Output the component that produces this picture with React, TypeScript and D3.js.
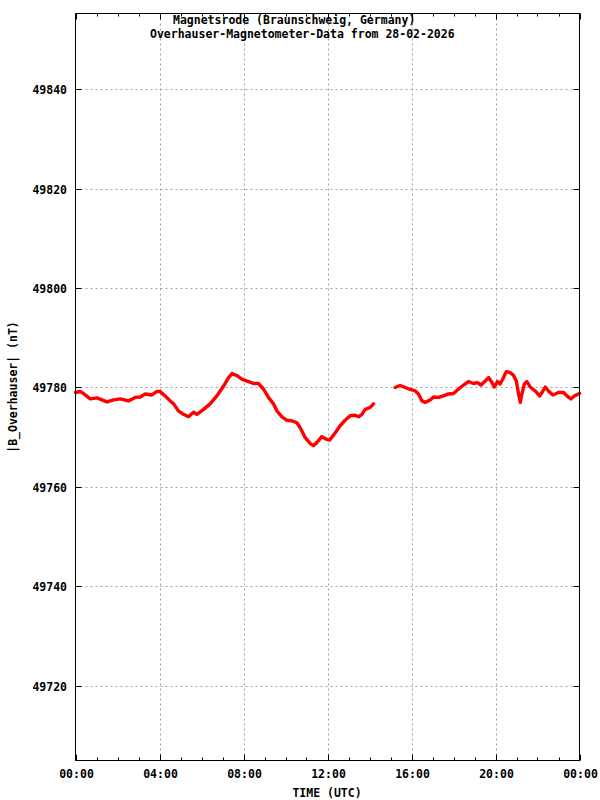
import React from "react";
import * as d3 from "d3";

// Time in hours (UTC) and |B| in nT
const hours1 = [0, 0.22, 0.38, 0.7, 1.02, 1.26, 1.5, 1.81, 2.13, 2.52, 2.84, 3.08, 3.32, 3.64, 3.88, 4.03, 4.27, 4.51, 4.67, 4.9, 5.14, 5.38, 5.62, 5.78, 6.1, 6.41, 6.73, 7.05, 7.29, 7.45, 7.69, 7.92, 8.24, 8.48, 8.71, 8.95, 9.19, 9.43, 9.59, 9.83, 10.07, 10.3, 10.54, 10.7, 10.94, 11.18, 11.33, 11.49, 11.73, 11.94, 12.1, 12.37, 12.6, 12.84, 13.08, 13.32, 13.48, 13.64, 13.8, 14.03, 14.19];
const values1 = [49779.0, 49779.2, 49778.8, 49777.7, 49777.9, 49777.5, 49777.1, 49777.5, 49777.7, 49777.3, 49778.0, 49778.1, 49778.7, 49778.5, 49779.2, 49779.2, 49778.3, 49777.3, 49776.7, 49775.3, 49774.6, 49774.1, 49775.0, 49774.6, 49775.6, 49776.7, 49778.3, 49780.3, 49782.0, 49782.8, 49782.4, 49781.7, 49781.2, 49780.8, 49780.8, 49779.7, 49778.0, 49776.7, 49775.3, 49774.1, 49773.4, 49773.3, 49772.9, 49771.9, 49769.9, 49768.7, 49768.3, 49768.9, 49770.1, 49769.6, 49769.4, 49770.9, 49772.3, 49773.4, 49774.3, 49774.4, 49774.1, 49774.6, 49775.6, 49776.0, 49776.7];
const hours2 = [15.22, 15.46, 15.7, 15.94, 16.18, 16.33, 16.5, 16.65, 16.89, 17.05, 17.29, 17.52, 17.76, 18.0, 18.24, 18.48, 18.71, 18.95, 19.14, 19.31, 19.51, 19.67, 19.83, 19.94, 20.1, 20.22, 20.35, 20.51, 20.7, 20.86, 20.99, 21.1, 21.18, 21.26, 21.37, 21.5, 21.65, 21.89, 22.1, 22.26, 22.37, 22.52, 22.73, 23.0, 23.24, 23.4, 23.59, 23.75, 24.0];
const values2 = [49780.0, 49780.4, 49780.0, 49779.6, 49779.3, 49778.7, 49777.3, 49777.0, 49777.5, 49778.1, 49778.0, 49778.3, 49778.7, 49778.8, 49779.7, 49780.5, 49781.2, 49780.8, 49781.0, 49780.5, 49781.3, 49782.0, 49781.0, 49780.1, 49781.2, 49780.7, 49781.7, 49783.2, 49783.0, 49782.4, 49781.3, 49778.7, 49777.0, 49778.7, 49780.7, 49781.2, 49780.1, 49779.3, 49778.3, 49779.3, 49780.1, 49779.3, 49778.5, 49779.0, 49779.0, 49778.3, 49777.7, 49778.3, 49778.8];

const yTicks = [49720, 49740, 49760, 49780, 49800, 49820, 49840];
const xMajorTicks = [0, 4, 8, 12, 16, 20, 24];
const xTickLabels = ["00:00", "04:00", "08:00", "12:00", "16:00", "20:00", "00:00"];
const xMinorTicks = d3.range(1, 24).filter((h) => h % 4 !== 0);

const titleLine1 = "Magnetsrode (Braunschweig, Germany)";
const titleLine2 = "Overhauser-Magnetometer-Data from 28-02-2026";
const xLabel = "TIME (UTC)";
const yLabel = "|B_Overhauser| (nT)";

const L = 75.5, R = 579.5, T = 13.5, B = 760.5;
const FONT = "'DejaVu Sans Mono', 'Liberation Mono', monospace";

export default function App() {
  const x = d3.scaleLinear().domain([0, 24]).range([L, R]);
  const y = d3.scaleLinear().domain([49704.9, 49855.3]).range([B, T]);
  const line = d3
    .line<[number, number]>()
    .x((d) => x(d[0]))
    .y((d) => y(d[1]))
    .curve(d3.curveLinear);
  const seg1 = hours1.map((h, i) => [h, values1[i]] as [number, number]);
  const seg2 = hours2.map((h, i) => [h, values2[i]] as [number, number]);
  const textStyle = { fontFamily: FONT, fontSize: 11.5, fontWeight: 700, fill: "#000" } as const;
  const grid = "#a0a0a0";

  return (
    <div style={{ position: "absolute", left: 0, top: 0 }}>
      <svg width={600} height={800} style={{ display: "block", background: "#fff" }}>
        <rect x={0} y={0} width={600} height={800} fill="#fff" />
        {/* grid */}
        {yTicks.map((v) => (
          <line key={"gy" + v} x1={L} x2={R} y1={Math.round(y(v)) + 0.5} y2={Math.round(y(v)) + 0.5} stroke={grid} strokeDasharray="2,3" />
        ))}
        {xMajorTicks.slice(1, -1).map((h) => (
          <line key={"gx" + h} x1={Math.round(x(h)) + 0.5} x2={Math.round(x(h)) + 0.5} y1={T} y2={B} stroke={grid} strokeDasharray="2,3" />
        ))}
        {/* data */}
        <path d={line(seg1) || ""} fill="none" stroke="#ff0000" strokeWidth={3.4} strokeLinejoin="round" strokeLinecap="round" />
        <path d={line(seg2) || ""} fill="none" stroke="#ff0000" strokeWidth={3.4} strokeLinejoin="round" strokeLinecap="round" />
        {/* ticks */}
        {yTicks.map((v) => {
          const yy = Math.round(y(v)) + 0.5;
          return (
            <g key={"ty" + v}>
              <line x1={L} x2={L + 6} y1={yy} y2={yy} stroke="#000" />
              <line x1={R - 6} x2={R} y1={yy} y2={yy} stroke="#000" />
              <text x={67} y={yy + 4} textAnchor="end" style={textStyle}>{v}</text>
            </g>
          );
        })}
        {xMajorTicks.map((h, i) => {
          const xx = Math.round(x(h)) + 0.5;
          return (
            <g key={"tx" + h}>
              <line x1={xx} x2={xx} y1={B} y2={B - 6} stroke="#000" />
              <line x1={xx} x2={xx} y1={T} y2={T + 6} stroke="#000" />
              <text x={xx} y={778} textAnchor="middle" style={textStyle}>{xTickLabels[i]}</text>
            </g>
          );
        })}
        {xMinorTicks.map((h) => {
          const xx = Math.round(x(h)) + 0.5;
          return (
            <g key={"mx" + h}>
              <line x1={xx} x2={xx} y1={B} y2={B - 3} stroke="#000" />
              <line x1={xx} x2={xx} y1={T} y2={T + 3} stroke="#000" />
            </g>
          );
        })}
        {/* border */}
        <rect x={L} y={T} width={R - L} height={B - T} fill="none" stroke="#000" />
        {/* titles */}
        <text x={173} y={24} style={textStyle}>{titleLine1}</text>
        <text x={150} y={38} style={textStyle}>{titleLine2}</text>
        <text x={327} y={797} textAnchor="middle" style={textStyle}>{xLabel}</text>
        <text transform="translate(16.5,387) rotate(-90)" textAnchor="middle" style={textStyle}>{yLabel}</text>
      </svg>
    </div>
  );
}
